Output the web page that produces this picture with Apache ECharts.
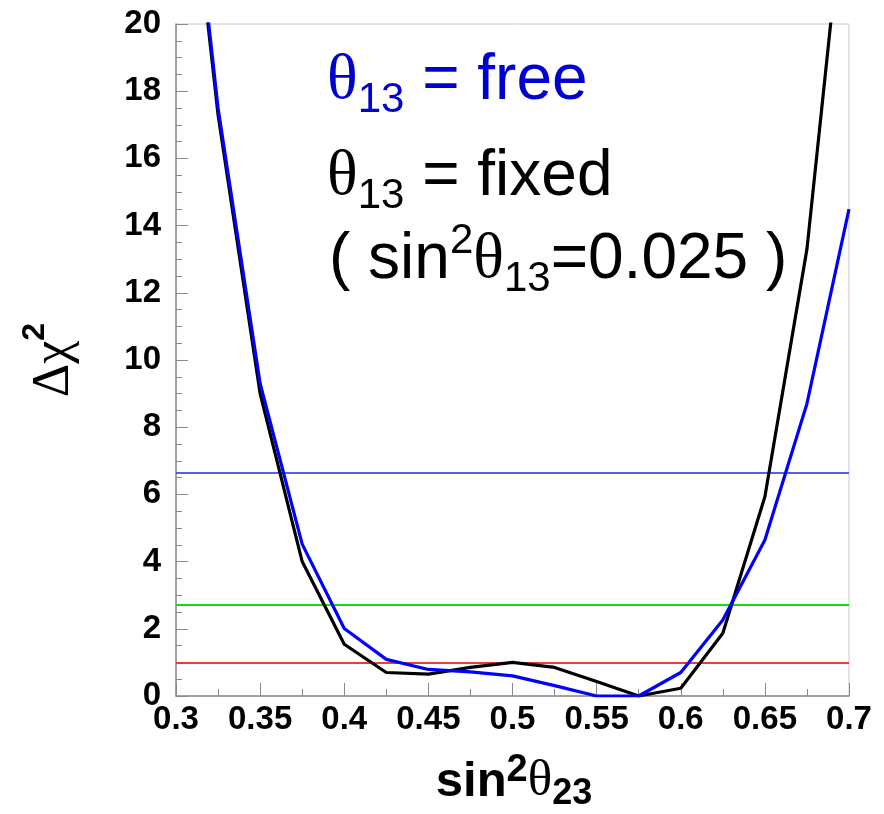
<!DOCTYPE html>
<html>
<head>
<meta charset="utf-8">
<script src="https://cdn.jsdelivr.net/npm/echarts@6/dist/echarts.min.js"></script>
<style>
html,body{margin:0;padding:0;background:#fff;}
#chart{width:884px;height:814px;}
</style>
</head>
<body>
<div id="chart"></div>
<script>
// sin^2(theta23) grid points
var xValues = [0.3, 0.325, 0.35, 0.375, 0.4, 0.425, 0.45, 0.475, 0.5, 0.525, 0.55, 0.575, 0.6, 0.625, 0.65, 0.675, 0.7];
// Delta chi^2, theta13 fixed (black)
var chiFixed = [28.5, 17.3, 9.0, 4.0, 1.54, 0.70, 0.65, 0.85, 1.0, 0.85, 0.43, 0.0, 0.23, 1.87, 5.93, 13.3, 25.2];
// Delta chi^2, theta13 free (blue)
var chiFree = [28.8, 17.5, 9.3, 4.52, 2.01, 1.09, 0.79, 0.72, 0.6, 0.31, 0.0, 0.0, 0.70, 2.26, 4.64, 8.7, 14.49];
// confidence levels
var levelValues = [1.0, 2.71, 6.63];
var levelColors = ['#f03a3a', '#10e010', '#5060f0'];
// axis ranges
var xRange = [0.3, 0.7];
var yRange = [0, 20];

function pairs(xs, ys) { return xs.map(function (x, i) { return [x, ys[i]]; }); }

var chart = echarts.init(document.getElementById('chart'), null, {renderer: 'canvas'});

var SANS = 'Liberation Sans, Arial, Helvetica, sans-serif';
var SERIF = 'Liberation Serif, Times New Roman, serif';

function legendRich(color) {
  return {
    th: {fontFamily: SERIF, fontSize: 64, lineHeight: 80, fill: color, color: color},
    t: {fontFamily: SANS, fontSize: 64, lineHeight: 80, fill: color, color: color},
    sub: {fontFamily: SANS, fontSize: 42, lineHeight: 34, verticalAlign: 'bottom', fill: color, color: color},
    sup: {fontFamily: SANS, fontSize: 42, lineHeight: 54, verticalAlign: 'top', fill: color, color: color}
  };
}

var option = {
  animation: false,
  backgroundColor: '#ffffff',
  grid: {left: 176, right: 35, top: 24, bottom: 118, show: true, borderColor: '#c8c8c8', borderWidth: 1},
  xAxis: {
    type: 'value', min: xRange[0], max: xRange[1], interval: 0.05,
    axisLine: {show: true, onZero: false, lineStyle: {color: '#8a8a8a', width: 1.5}},
    axisTick: {show: true, inside: true, length: 13, lineStyle: {color: '#8a8a8a', width: 1}},
    minorTick: {show: true, splitNumber: 2, length: 7, lineStyle: {color: '#8a8a8a', width: 1}},
    splitLine: {show: false},
    axisLabel: {fontFamily: SANS, fontWeight: 'bold', fontSize: 33, color: '#000', margin: 7}
  },
  yAxis: {
    type: 'value', min: yRange[0], max: yRange[1], interval: 2,
    axisLine: {show: true, lineStyle: {color: '#8a8a8a', width: 1.5}},
    axisTick: {show: true, inside: true, length: 12, lineStyle: {color: '#8a8a8a', width: 1}},
    minorTick: {show: true, splitNumber: 4, length: 6, lineStyle: {color: '#8a8a8a', width: 1}},
    splitLine: {show: false},
    axisLabel: {fontFamily: SANS, fontWeight: 'bold', fontSize: 33, color: '#000', margin: 15}
  },
  series: [
    {
      name: 'fixed', type: 'line', data: pairs(xValues, chiFixed),
      showSymbol: false, symbol: 'none', clip: true, z: 3,
      lineStyle: {color: '#000000', width: 3.2},
      markLine: {
        silent: true, symbol: ['none', 'none'], label: {show: false}, z: 2,
        data: levelValues.map(function (v, i) {
          return {yAxis: v, lineStyle: {color: levelColors[i], width: 2, type: 'solid'}};
        })
      }
    },
    {
      name: 'free', type: 'line', data: pairs(xValues, chiFree),
      showSymbol: false, symbol: 'none', clip: true, z: 4,
      lineStyle: {color: '#0000ff', width: 3.2}
    }
  ],
  graphic: [
    {
      type: 'text', left: 327, top: 49,
      style: {
        text: '{th|θ}{sub|13}{t| = free}',
        fill: '#0000d0',
        rich: legendRich('#0000d0')
      }
    },
    {
      type: 'text', left: 327, top: 145,
      style: {
        text: '{th|θ}{sub|13}{t| = fixed}',
        fill: '#000',
        rich: legendRich('#000000')
      }
    },
    {
      type: 'text', left: 329, top: 220,
      style: {
        text: '{t|( sin}{sup|2}{th|θ}{sub|13}{t|=0.025 )}',
        fill: '#000',
        rich: legendRich('#000000')
      }
    },
    {
      type: 'text', x: 514, y: 782,
      style: {
        text: '{s|sin}{sup|2}{th|θ}{sub|23}',
        align: 'center', verticalAlign: 'middle',
        textAlign: 'center', textVerticalAlign: 'middle',
        rich: {
          s: {fontFamily: SANS, fontWeight: 'bold', fontSize: 49, lineHeight: 60, fill: '#000'},
          th: {fontFamily: SERIF, fontSize: 51, lineHeight: 60, fill: '#000'},
          sup: {fontFamily: SANS, fontWeight: 'bold', fontSize: 38, lineHeight: 19, verticalAlign: 'top', fill: '#000'},
          sub: {fontFamily: SANS, fontWeight: 'bold', fontSize: 36, lineHeight: 16, verticalAlign: 'bottom', fill: '#000'}
        }
      }
    },
    {
      type: 'text', x: 54, y: 360, rotation: Math.PI / 2,
      style: {
        text: '{g|Δχ}{sup|2}',
        align: 'center', verticalAlign: 'middle',
        textAlign: 'center', textVerticalAlign: 'middle',
        rich: {
          g: {fontFamily: SERIF, fontSize: 52, lineHeight: 70, fill: '#000'},
          sup: {fontFamily: SANS, fontWeight: 'bold', fontSize: 32, lineHeight: 30, verticalAlign: 'top', fill: '#000'}
        }
      }
    }
  ]
};
chart.setOption(option);
</script>
</body>
</html>
